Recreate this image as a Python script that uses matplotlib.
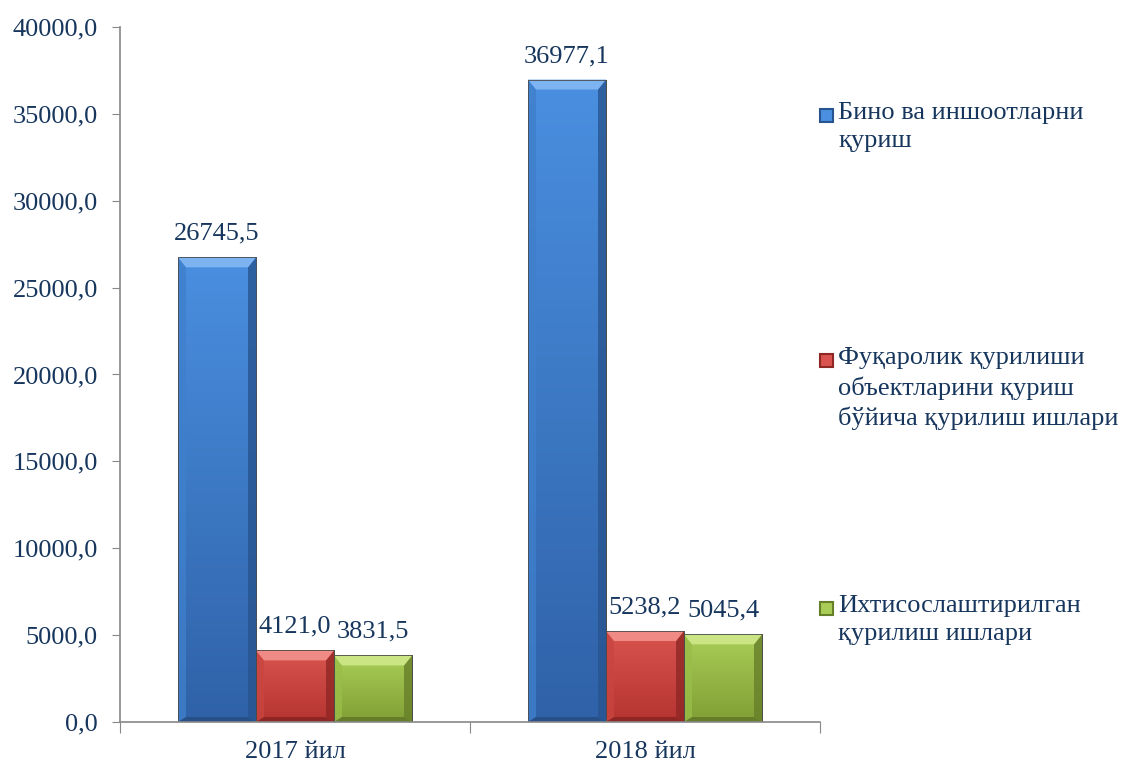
import matplotlib.pyplot as plt
import numpy as np
from matplotlib.patches import Polygon, Rectangle
from matplotlib.ticker import FuncFormatter, MultipleLocator
from matplotlib.colors import LinearSegmentedColormap

plt.rcParams['font.family'] = ['Liberation Serif', 'DejaVu Serif']

# data
years = ['2017 йил', '2018 йил']
buildings = [26745.5, 36977.1]
civil = [4121.0, 5238.2]
special = [3831.5, 5045.4]
labels = ['Бино ва иншоотларни\nқуриш',
          'Фуқаролик қурилиши\nобъектларини қуриш\nбўйича қурилиш ишлари',
          'Ихтисослаштирилган\nқурилиш ишлари']
values_txt = [['26745,5', '36977,1'], ['4121,0', '5238,2'], ['3831,5', '5045,4']]

txt_col = '#17365D'
# (face top, face bottom, bevel top, bevel right, bevel left, bevel bottom)
styles = [
    ('#4A8FE0', '#2F62A8', '#7DB3F0', '#28548F', '#3F7FCC', '#254C82'),
    ('#D9544F', '#B53431', '#F08A85', '#8F2725', '#C9453F', '#842321'),
    ('#AACD57', '#809F35', '#CBE585', '#667F29', '#9ABD48', '#5E7526'),
]

fig = plt.figure(figsize=(11.23, 7.65), dpi=100)
ax = fig.add_axes([120 / 1123, 43 / 765, 700 / 1123, 695 / 765])

x = np.arange(len(years))
w = 78 / 350
bx = 8 / 350
by = 10 * 40000 / 695
bb = 5 * 40000 / 695
series = [buildings, civil, special]

for i, vals in enumerate(series):
    ftop, fbot, btop, bright, bleft, bbot = styles[i]
    cmap = LinearSegmentedColormap.from_list('g%d' % i, [fbot, ftop])
    bars = ax.bar(x + (i - 1) * w, vals, width=w, color=fbot,
                  edgecolor='#555555', linewidth=0.6, zorder=2)
    for j, b in enumerate(bars):
        x0, x1 = b.get_x(), b.get_x() + b.get_width()
        h = b.get_height()
        grad = np.linspace(0, 1, 100).reshape(-1, 1)
        im = ax.imshow(grad, cmap=cmap, origin='lower', aspect='auto',
                       extent=(x0, x1, 0, h), zorder=2.1)
        im.set_clip_path(b)
        ax.add_patch(Polygon([(x0, h), (x1, h), (x1 - bx, h - by), (x0 + bx, h - by)],
                             closed=True, color=btop, lw=0, zorder=2.3))
        ax.add_patch(Polygon([(x1, h), (x1, 0), (x1 - bx, bb), (x1 - bx, h - by)],
                             closed=True, color=bright, lw=0, alpha=0.8, zorder=2.2))
        ax.add_patch(Polygon([(x0, h), (x0, 0), (x0 + bx, bb), (x0 + bx, h - by)],
                             closed=True, color=bleft, lw=0, alpha=0.8, zorder=2.2))
        ax.add_patch(Polygon([(x0, 0), (x1, 0), (x1 - bx, bb), (x0 + bx, bb)],
                             closed=True, color=bbot, lw=0, alpha=0.8, zorder=2.3))
        ax.add_patch(Rectangle((x0, 0), x1 - x0, h, fill=False,
                               edgecolor='#4a4a4a', lw=0.6, zorder=2.4))
        ax.annotate(values_txt[i][j], (b.get_x() + w / 2, h), xytext=(0, 9),
                    textcoords='offset points', ha='center', va='bottom',
                    fontsize=19, color=txt_col)

ax.set_xlim(-0.5, 1.5)
ax.set_ylim(0, 40000)
ax.yaxis.set_major_locator(MultipleLocator(5000))
ax.yaxis.set_major_formatter(FuncFormatter(lambda v, p: ('%.1f' % v).replace('.', ',')))
ax.set_xticks([-0.5, 0.5, 1.5])
ax.set_xticklabels([])
ax.set_xticks(x, minor=True)
ax.set_xticklabels(years, minor=True)
ax.tick_params(axis='x', which='minor', length=0, pad=14, labelsize=19, labelcolor=txt_col)
ax.tick_params(axis='x', which='major', length=8, color='#888888')
ax.tick_params(axis='y', length=6, color='#888888', labelsize=19, labelcolor=txt_col, pad=10)
for s in ['top', 'right']:
    ax.spines[s].set_visible(False)
for s in ['left', 'bottom']:
    ax.spines[s].set_color('#888888')
    ax.spines[s].set_linewidth(1.2)

# legend placed by hand
leg_y = [102, 347, 595]
for i, lab in enumerate(labels):
    yy = 1 - leg_y[i] / 765
    ftop, fbot, btop, bright, bleft, bbot = styles[i]
    fig.patches.append(Rectangle((820 / 1123, yy - 20 / 765), 13 / 1123, 13 / 765,
                                 transform=fig.transFigure, facecolor=ftop,
                                 edgecolor=bright, lw=1.5, figure=fig))
    fig.text(838 / 1123, yy, lab, fontsize=19, color=txt_col, va='top',
             ha='left', linespacing=1.38, transform=fig.transFigure)

fig.savefig('out.png', dpi=100)
